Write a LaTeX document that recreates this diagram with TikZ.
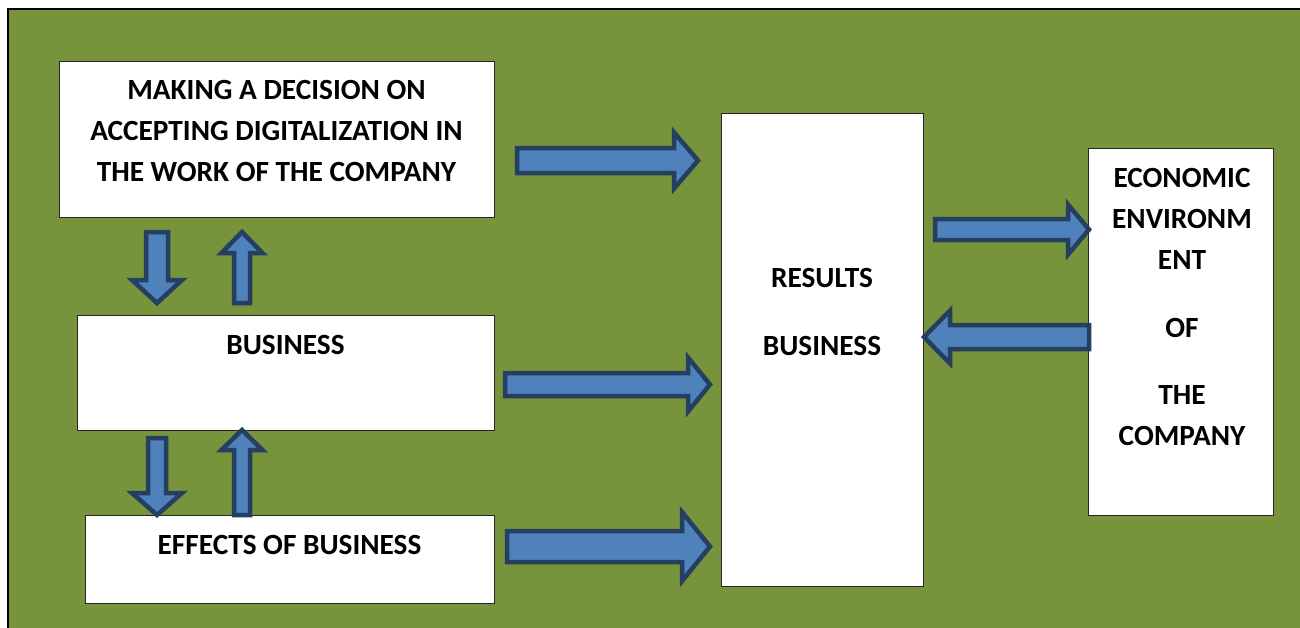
\documentclass[tikz,border=0pt]{standalone}
\usepackage{fontspec}
\setmainfont{Carlito}
\usetikzlibrary{calc}
\definecolor{bggreen}{HTML}{77933C}
\definecolor{arrfill}{HTML}{4F81BD}
\definecolor{arrline}{HTML}{243F60}
\definecolor{boxline}{HTML}{262626}
\begin{document}
\begin{tikzpicture}[x=1pt,y=-1pt,
  box/.style={draw=boxline, line width=1.2pt, fill=white, inner sep=0pt, anchor=north west},
  txt/.style={font=\fontsize{29.3}{41}\selectfont\bfseries, align=center, inner sep=0pt},
  blockarrow/.style={fill=arrfill, draw=arrline, line width=4.5pt, line join=miter}]
\useasboundingbox (0,0) rectangle (1300,627);
\clip (0,0) rectangle (1300,627);
\fill[white] (0,0) rectangle (1300,627);
\draw[black, line width=2pt, fill=bggreen] (8,9) rectangle (1330,660);

% boxes
\node[box, minimum width=435pt, minimum height=156pt] (decision) at (59,61) {};
\node[box, minimum width=417pt, minimum height=115pt] (business) at (77,315) {};
\node[box, minimum width=409pt, minimum height=88pt] (effects) at (85,515) {};
\node[box, minimum width=202pt, minimum height=473pt] (results) at (721,113) {};
\node[box, minimum width=185pt, minimum height=367pt] (environ) at (1088,148) {};

% texts
\node[txt] (tdecision) at (276.5,131) {MAKING A DECISION ON\\ACCEPTING DIGITALIZATION IN\\THE WORK OF THE COMPANY};
\node[txt] (tbusiness) at (285.5,345) {BUSINESS};
\node[txt] (teffects) at (289.5,545) {EFFECTS OF BUSINESS};
\node[txt] (tresults) at (822,312) {RESULTS\\[27pt]BUSINESS};
\node[txt] (tenviron) at (1182,306.5) {ECONOMIC\\ENVIRONM\\ENT\\[27pt]OF\\[26pt]THE\\COMPANY};

% horizontal block arrows (right)
\draw[blockarrow] (517,148) -- (674,148) -- (674,132.5) -- (698,160.5) -- (674,188.5) -- (674,173) -- (517,173) -- cycle;
\draw[blockarrow] (505,373) -- (688,373) -- (688,357.5) -- (710,384.5) -- (688,411.5) -- (688,396) -- (505,396) -- cycle;
\draw[blockarrow] (507,531) -- (682,531) -- (682,512) -- (710,546.5) -- (682,581) -- (682,562) -- (507,562) -- cycle;
\draw[blockarrow] (935,219) -- (1068,219) -- (1068,204.5) -- (1089,229.5) -- (1068,254.5) -- (1068,240) -- (935,240) -- cycle;
% left arrow
\draw[blockarrow] (1089,325) -- (950,325) -- (950,310.5) -- (924,337) -- (950,363.5) -- (950,349) -- (1089,349) -- cycle;

% vertical block arrows
\draw[blockarrow] (146,232) -- (146,280) -- (132,280) -- (157,303) -- (182,280) -- (168,280) -- (168,232) -- cycle;
\draw[blockarrow] (234,303) -- (234,253) -- (221.5,253) -- (242,232) -- (262.5,253) -- (250,253) -- (250,303) -- cycle;
\draw[blockarrow] (148,438) -- (148,493) -- (132,493) -- (157,515) -- (182,493) -- (166,493) -- (166,438) -- cycle;
\draw[blockarrow] (234,515) -- (234,450) -- (221.5,450) -- (242,430) -- (262.5,450) -- (250,450) -- (250,515) -- cycle;
\end{tikzpicture}
\end{document}
